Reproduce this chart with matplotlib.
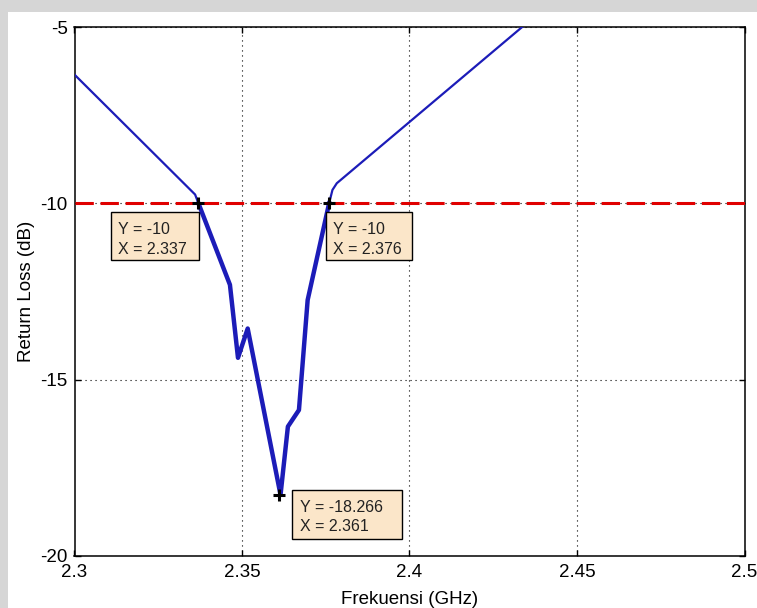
import matplotlib
matplotlib.use('Agg')
import matplotlib.pyplot as plt
from matplotlib.patches import Rectangle

plt.rcParams['font.family'] = ['Liberation Sans', 'DejaVu Sans']

# return loss curve
freq = [2.300, 2.336, 2.337, 2.3464, 2.3488, 2.3517, 2.3615, 2.3637, 2.367, 2.3696, 2.376, 2.377, 2.3783, 2.44]
rl = [-6.35, -9.75, -10.0, -12.31, -14.38, -13.55, -18.266, -16.33, -15.86, -12.74, -10.0, -9.62, -9.43, -4.49]

# data tips
tip_x = [2.337, 2.376, 2.361]
tip_y = [-10, -10, -18.266]
tip_labels = ['Y = -10\nX = 2.337', 'Y = -10\nX = 2.376', 'Y = -18.266\nX = 2.361']
# box (left, right, top, bottom) and text anchor in data units
tip_boxes = [(2.3109, 2.3372, -10.245, -11.62),
             (2.3751, 2.4008, -10.245, -11.61),
             (2.3649, 2.3978, -18.13, -19.52)]
tip_text_pos = [(2.3130, -10.54), (2.3772, -10.54), (2.3673, -18.42)]

xticks = [2.3, 2.35, 2.4, 2.45, 2.5]
yticks = [-20, -15, -10, -5]

fig = plt.figure(figsize=(7.57, 6.08), dpi=100, facecolor='#d6d6d6')
fig.patches.append(Rectangle((8/757, 0), 1, 1 - 12/608, transform=fig.transFigure,
                             facecolor='white', edgecolor='none', zorder=-1))
ax = fig.add_axes([74.5/757, 52/608, 670/757, 529/608])

blue = '#1c1cb8'
ax.plot(freq, rl, color=blue, lw=1.6, zorder=3)
ax.plot(freq[2:11], rl[2:11], color=blue, lw=3.2, solid_joinstyle='round', zorder=3)
ax.axhline(-10, color='#e00000', lw=2.2, ls=(0, (6, 2.2)), zorder=4)

for x, y, lab, (l, r, t, b), (tx, ty) in zip(tip_x, tip_y, tip_labels, tip_boxes, tip_text_pos):
    ax.plot(x, y, marker='+', color='black', ms=9, mew=2.2, zorder=6)
    ax.add_patch(Rectangle((l, b), r - l, t - b, facecolor='#fbe6c9', edgecolor='black',
                           lw=1.0, zorder=7))
    ax.text(tx, ty, lab, fontsize=11.5, ha='left', va='top', linespacing=1.35,
            color='#222222', zorder=8)

ax.set_xlim(2.3, 2.5)
ax.set_ylim(-20, -5)
ax.set_xticks(xticks)
ax.set_xticklabels(['2.3', '2.35', '2.4', '2.45', '2.5'])
ax.set_yticks(yticks)
ax.set_yticklabels(['-20', '-15', '-10', '-5'])
ax.tick_params(direction='in', top=True, right=True, length=4, width=1, labelsize=13.5)
ax.tick_params(axis='x', pad=6)
ax.tick_params(axis='y', pad=5)
ax.grid(True, color='black', ls=(0, (1, 3.5)), lw=0.8)
for s in ax.spines.values():
    s.set_linewidth(1.1)

ax.set_xlabel('Frekuensi (GHz)', fontsize=13.5, labelpad=7)
ax.set_ylabel('Return Loss (dB)', fontsize=13.5, labelpad=4)

fig.savefig('out.png', dpi=100, facecolor=fig.get_facecolor())
